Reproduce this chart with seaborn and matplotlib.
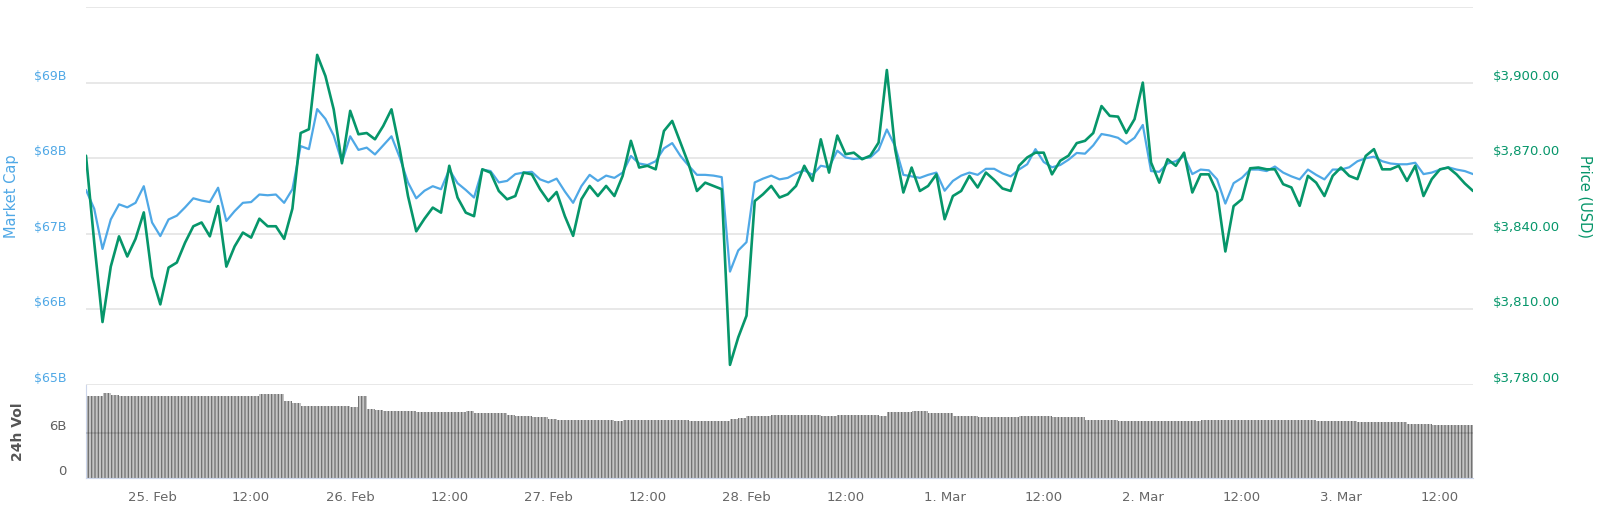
import numpy as np
import pandas as pd
import matplotlib
matplotlib.use("Agg")
import matplotlib.pyplot as plt
import seaborn as sns

### data (hourly, 24 Feb 16:00 -> 3 Mar 16:00)
start_time = "2019-02-24 16:00"

market_cap_b = [
    67.58, 67.33, 66.80, 67.19, 67.39, 67.35, 67.41, 67.63, 67.15, 66.97,
    67.19, 67.24, 67.35, 67.47, 67.44, 67.42, 67.61, 67.17, 67.30, 67.41,
    67.42, 67.52, 67.51, 67.52, 67.41, 67.59, 68.16, 68.12, 68.65, 68.52,
    68.30, 67.95, 68.29, 68.11, 68.14, 68.05, 68.17, 68.29, 68.01, 67.68,
    67.47, 67.57, 67.63, 67.59, 67.85, 67.67, 67.58, 67.48, 67.85, 67.83,
    67.68, 67.70, 67.79, 67.81, 67.82, 67.72, 67.68, 67.73, 67.56, 67.41,
    67.63, 67.78, 67.70, 67.77, 67.74, 67.81, 68.03, 67.93, 67.91, 67.96,
    68.13, 68.20, 68.03, 67.90, 67.78, 67.78, 67.77, 67.75, 66.50, 66.78,
    66.89, 67.68, 67.73, 67.77, 67.72, 67.74, 67.80, 67.84, 67.78, 67.90,
    67.88, 68.10, 68.01, 67.99, 68.00, 68.01, 68.11, 68.38, 68.16, 67.78,
    67.76, 67.74, 67.78, 67.81, 67.57, 67.70, 67.77, 67.81, 67.78, 67.86,
    67.86, 67.80, 67.76, 67.85, 67.92, 68.12, 67.95, 67.88, 67.91, 67.98,
    68.07, 68.06, 68.17, 68.32, 68.30, 68.27, 68.19, 68.27, 68.44, 67.83,
    67.82, 67.93, 67.96, 68.03, 67.79, 67.85, 67.84, 67.72, 67.40, 67.67,
    67.74, 67.85, 67.85, 67.83, 67.89, 67.81, 67.76, 67.72, 67.85, 67.78,
    67.72, 67.85, 67.85, 67.88, 67.96, 68.00, 68.02, 67.96, 67.93, 67.92,
    67.92, 67.94, 67.79, 67.81, 67.85, 67.88, 67.85, 67.83, 67.79,
]

price_usd = [
    3871, 3836.5, 3805, 3827, 3839, 3831, 3838, 3848.5, 3823, 3812,
    3826.6, 3828.6, 3836.5, 3843, 3844.5, 3839, 3851, 3827, 3835, 3840.5,
    3838.5, 3846, 3843, 3843, 3838, 3850, 3880, 3881.5, 3911, 3902.6,
    3889.4, 3868, 3888.8, 3879.5, 3880, 3877.5, 3882.8, 3889.4, 3873.6, 3855,
    3841, 3846, 3850.4, 3848.4, 3867, 3854.4, 3848.4, 3847, 3865.6, 3864.3,
    3857, 3853.7, 3855, 3864.3, 3863.6, 3857.7, 3853, 3856.6, 3847, 3839.2,
    3853.7, 3859, 3855, 3859, 3855, 3863, 3876.9, 3866.3, 3867, 3865.6,
    3880.8, 3884.8, 3876.2, 3867.6, 3857, 3860.3, 3859, 3857.7, 3788, 3798.9,
    3807.5, 3853, 3855.7, 3859, 3854.4, 3855.7, 3859, 3867, 3861, 3877.5,
    3864.3, 3879, 3871.6, 3872.2, 3869.6, 3871, 3876.2, 3905, 3873.6, 3856.4,
    3866.3, 3857, 3859, 3863.6, 3845.8, 3855, 3857, 3863, 3858.4, 3864.3,
    3861.4, 3858, 3857, 3867, 3870.3, 3872.2, 3872.2, 3863.6, 3869, 3871,
    3876, 3876.9, 3880, 3890.7, 3886.8, 3886.5, 3880, 3885.5, 3900, 3868.3,
    3860.3, 3869.6, 3867, 3872.2, 3856.4, 3863.6, 3863.6, 3856.4, 3833, 3851,
    3853.7, 3866, 3866.3, 3865.6, 3865.6, 3859.7, 3858.4, 3851.1, 3863, 3860.3,
    3855, 3863, 3866.3, 3863, 3861.7, 3870.9, 3873.6, 3865.6, 3865.6, 3867,
    3861, 3867, 3855, 3861.7, 3865.6, 3866.3, 3863.6, 3860, 3857,
]

volume_b = [
    10.9, 10.9, 11.3, 11.1, 10.9, 10.9, 10.9, 10.9, 10.9, 10.9,
    11.0, 11.0, 11.0, 11.0, 11.0, 11.0, 11.0, 11.0, 11.0, 11.0,
    11.0, 11.2, 11.2, 11.2, 10.3, 10.0, 9.64, 9.64, 9.64, 9.64,
    9.64, 9.64, 9.42, 11.0, 9.24, 9.1, 8.98, 8.98, 8.98, 8.98,
    8.8, 8.8, 8.8, 8.8, 8.8, 8.8, 8.98, 8.67, 8.67, 8.67,
    8.67, 8.44, 8.3, 8.22, 8.09, 8.09, 7.9, 7.78, 7.78, 7.78,
    7.78, 7.78, 7.78, 7.8, 7.56, 7.78, 7.78, 7.78, 7.78, 7.7,
    7.7, 7.7, 7.7, 7.56, 7.56, 7.56, 7.56, 7.56, 7.9, 8.0,
    8.22, 8.22, 8.22, 8.44, 8.44, 8.44, 8.44, 8.44, 8.44, 8.22,
    8.22, 8.44, 8.44, 8.44, 8.44, 8.44, 8.22, 8.76, 8.76, 8.76,
    8.98, 8.98, 8.67, 8.67, 8.67, 8.22, 8.22, 8.22, 8.09, 8.09,
    8.09, 8.09, 8.09, 8.3, 8.3, 8.3, 8.3, 8.09, 8.09, 8.09,
    8.09, 7.78, 7.78, 7.78, 7.78, 7.56, 7.56, 7.56, 7.56, 7.56,
    7.56, 7.56, 7.56, 7.56, 7.56, 7.78, 7.78, 7.78, 7.78, 7.78,
    7.78, 7.78, 7.78, 7.78, 7.78, 7.78, 7.78, 7.78, 7.78, 7.65,
    7.65, 7.65, 7.65, 7.65, 7.47, 7.47, 7.47, 7.47, 7.47, 7.47,
    7.24, 7.24, 7.24, 7.02, 7.02, 7.02, 7.02, 7.02, 7.02,
]

x_tick_labels = ["25. Feb", "12:00", "26. Feb", "12:00", "27. Feb", "12:00",
                 "28. Feb", "12:00", "1. Mar", "12:00", "2. Mar", "12:00",
                 "3. Mar", "12:00"]
cap_ticks = [65, 66, 67, 68, 69, 70]
cap_labels = ["$65B", "$66B", "$67B", "$68B", "$69B", ""]
price_ticks = [3780, 3810, 3840, 3870, 3900, 3930]
price_labels = ["$3,780.00", "$3,810.00", "$3,840.00", "$3,870.00", "$3,900.00", ""]
vol_ticks = [0, 6]
vol_labels = ["0", "6B"]

BLUE = "#4fa8e6"
GREEN = "#06966a"
GRID = "#e6e6e6"
AXIS = "#ccd6eb"

df = pd.DataFrame({
    "time": pd.date_range(start_time, periods=len(price_usd), freq="h"),
    "market_cap": market_cap_b,
    "price": price_usd,
    "volume": volume_b,
})

sns.set_style("white")
plt.rcParams["font.family"] = ["DejaVu Sans"]
plt.rcParams["hatch.linewidth"] = 0.9
plt.rcParams["hatch.color"] = "#6f6f6f"

fig = plt.figure(figsize=(16, 5.12), dpi=100)
ax = fig.add_axes([0.05375, 0.248, 0.8669, 0.7383])
ax_v = fig.add_axes([0.05375, 0.0664, 0.8669, 0.1816], sharex=ax)

## market cap (left axis)
sns.lineplot(data=df, x="time", y="market_cap", ax=ax, color=BLUE, linewidth=1.6)
ax.set_ylim(65, 70)
ax.set_yticks(cap_ticks)
ax.set_yticklabels(cap_labels, va="bottom", color=BLUE, fontsize=9)
ax.grid(axis="y", color=GRID, linewidth=1.3)
ax.grid(axis="x", visible=False)
ax.tick_params(axis="y", length=0, pad=14)
ax.tick_params(axis="x", bottom=False, labelbottom=False)
ax.set_xlabel("")
ax.set_ylabel("")
for s in ax.spines.values():
    s.set_visible(False)

## price (right axis)
ax2 = ax.twinx()
sns.lineplot(data=df, x="time", y="price", ax=ax2, color=GREEN, linewidth=1.9)
ax2.set_ylim(3780, 3930)
ax2.set_yticks(price_ticks)
ax2.set_yticklabels(price_labels, va="bottom", color=GREEN, fontsize=9.5)
ax2.tick_params(axis="y", length=0, pad=14)
ax2.grid(False)
ax2.set_ylabel("")
for s in ax2.spines.values():
    s.set_visible(False)

## 24h volume bars (striped like the dense bars of the original)
ax_v.bar(df["time"], df["volume"], width=1 / 24, align="edge",
         facecolor="#c4c4c4", edgecolor="#6f6f6f", hatch="|||||",
         linewidth=0, zorder=2)
ax_v.axhline(6, color="#000000", alpha=0.15, linewidth=1.2, zorder=3)
ax_v.set_ylim(0, 12.4)
ax_v.set_yticks(vol_ticks)
ax_v.set_yticklabels(vol_labels, va="bottom", color="#606060", fontsize=9.5)
ax_v.tick_params(axis="y", length=0, pad=14)
ax_v.grid(False)
for side in ["top", "right"]:
    ax_v.spines[side].set_visible(False)
ax_v.spines["left"].set_color(AXIS)
ax_v.spines["bottom"].set_color(AXIS)

xticks = pd.date_range("2019-02-25", periods=len(x_tick_labels), freq="12h")
ax_v.set_xticks(xticks)
ax_v.set_xticklabels(x_tick_labels, color="#666666", fontsize=9.5)
ax_v.tick_params(axis="x", length=8, width=1, color=AXIS, direction="out", pad=1.5)
ax_v.set_xlim(df["time"].iloc[0], df["time"].iloc[-1])

## axis titles
fig.text(0.0075, 0.617, "Market Cap", rotation=90, va="center", ha="center",
         color=BLUE, fontsize=10.5)
fig.text(0.9906, 0.617, "Price (USD)", rotation=270, va="center", ha="center",
         color=GREEN, fontsize=10.5)
fig.text(0.0115, 0.156, "24h Vol", rotation=90, va="center", ha="center",
         color="#555555", fontsize=10, fontweight="bold")

fig.savefig("out.png", dpi=100, facecolor="white")
